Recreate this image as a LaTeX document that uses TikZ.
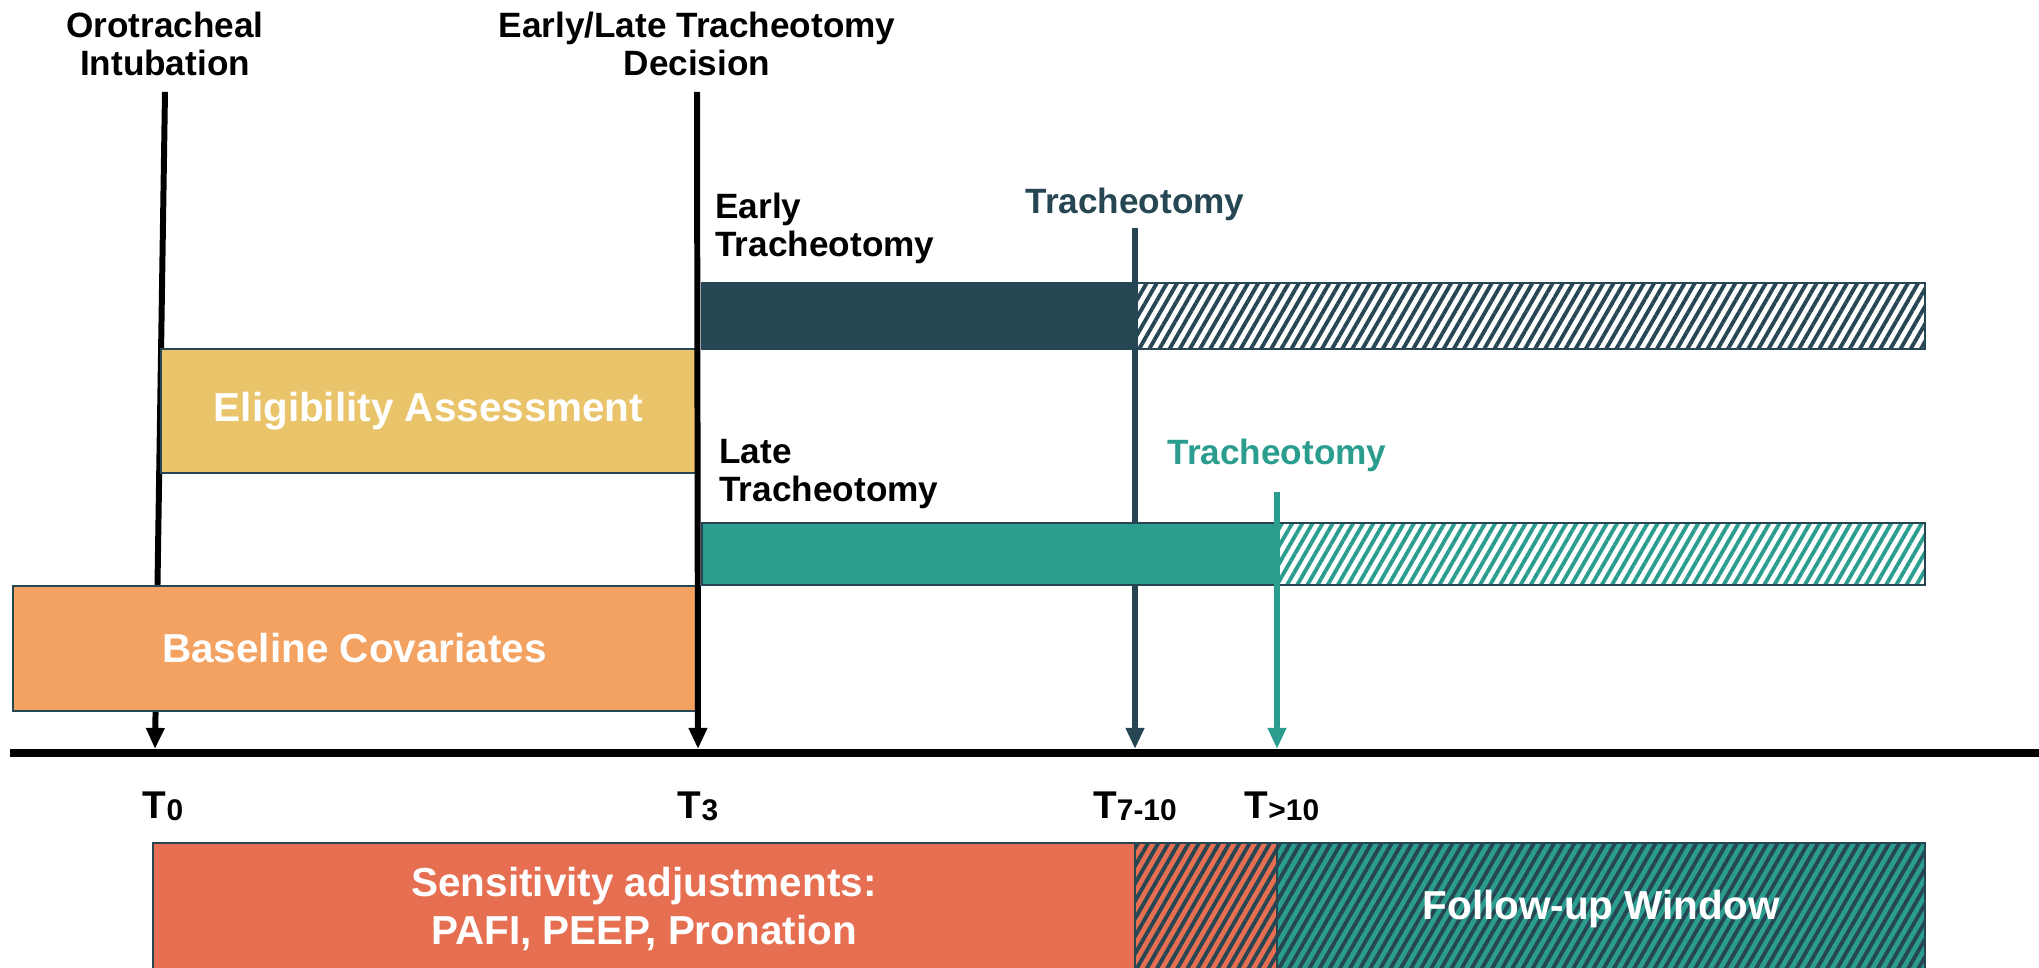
\documentclass[tikz,border=0pt]{standalone}
\usepackage{fontspec}
\setmainfont{Liberation Sans}
\usepackage{xcolor}
\usepackage{tikz}
\usetikzlibrary{arrows.meta,patterns.meta}

\definecolor{trachdark}{HTML}{264653}
\definecolor{trachteal}{HTML}{2A9D8F}
\definecolor{eligyellow}{HTML}{E9C46A}
\definecolor{baseorange}{HTML}{F4A261}
\definecolor{sensred}{HTML}{E76F51}

\newcommand{\tmark}[1]{T\raisebox{-0.6pt}{\fontsize{8.5}{9}\selectfont #1}}

\begin{document}
\begin{tikzpicture}[x=0.01cm,y=-0.01cm,
    box/.style={draw=trachdark,line width=0.6pt,inner sep=0pt,text=white,
      font=\bfseries\fontsize{11.5}{13.5}\selectfont,align=center},
    hatch/.style={pattern={Lines[angle=60,distance=2.5pt,line width=1.1pt]}},
    title/.style={font=\bfseries\fontsize{10}{10.8}\selectfont,align=center},
    tick/.style={-{Triangle[length=6pt,width=5pt]},line width=1.7pt}]
    \useasboundingbox (0,0) rectangle (2039,968);

    % Headings
    \node[title] (intub) at (165,44) {Orotracheal\\Intubation};
    \node[title] (decis) at (697,44) {Early/Late Tracheotomy\\Decision};

    % Time axis
    \coordinate (axl) at (10,753);
    \coordinate (axr) at (2039,753);
    \coordinate (t0) at (155,749);
    \coordinate (t3) at (698,749);
    \coordinate (t710) at (1135,749);
    \coordinate (tgt10) at (1277,749);
    \coordinate (earlytop) at (1135,228);
    \coordinate (latetop) at (1277,492);

    \draw[tick] ([yshift=-1pt]intub.south) -- (t0);

    % Boxes before the decision
    \node[box,fill=eligyellow,minimum width=5.35cm,minimum height=1.24cm] (elig) at (428.5,411) {Eligibility Assessment};
    \node[box,fill=baseorange,minimum width=6.83cm,minimum height=1.25cm] (base) at (354.5,648.5) {Baseline Covariates};

    \draw[trachdark,tick,line width=1.5pt] (earlytop) -- (t710);

    % Arms
    \node[title,anchor=west,align=left] (earlylbl) at (703,228) {Early\\Tracheotomy};
    \node[title,anchor=west,align=left] (latelbl) at (707,474) {Late\\Tracheotomy};
    \node[box,fill=trachdark,minimum width=4.33cm,minimum height=0.66cm] (earlybar) at (918.5,316) {};
    \node[box,hatch,pattern color=trachdark,minimum width=7.9cm,minimum height=0.66cm] (earlyfu) at (1530,316) {};
    \node[box,fill=trachteal,minimum width=5.75cm,minimum height=0.62cm] (latebar) at (989.5,554) {};
    \node[box,hatch,pattern color=trachteal,minimum width=6.48cm,minimum height=0.62cm] (latefu) at (1601,554) {};

    \node[title,text=trachdark] (earlytrach) at (1135,204) {Tracheotomy};
    \node[title,text=trachteal] (latetrach) at (1277,455) {Tracheotomy};
    \draw[trachteal,tick,line width=1.5pt] (latetop) -- (tgt10);

    \draw[line width=2.3pt] (axl) -- (axr);
    \draw[tick] ([yshift=-1pt]decis.south) -- (t3);

    % Time points
    \node[title,font=\bfseries\fontsize{11}{12}\selectfont] (l0) at (163,806) {\tmark{0}};
    \node[title,font=\bfseries\fontsize{11}{12}\selectfont] (l3) at (698,806) {\tmark{3}};
    \node[title,font=\bfseries\fontsize{11}{12}\selectfont] (l710) at (1135,806) {\tmark{7-10}};
    \node[title,font=\bfseries\fontsize{11}{12}\selectfont] (lgt10) at (1282,806) {\tmark{>10}};

    % Bottom windows
    \node[box,fill=sensred,minimum width=9.82cm,minimum height=1.32cm] (sens) at (644,909) {Sensitivity adjustments:\\PAFI, PEEP, Pronation};
    \node[box,preaction={fill=sensred},hatch,pattern color=trachdark,minimum width=1.42cm,minimum height=1.32cm] (gap) at (1206,909) {};
    \node[box,preaction={fill=trachteal},hatch,pattern color=trachdark,minimum width=6.48cm,minimum height=1.32cm] (follow) at (1601,909) {Follow-up Window};
\end{tikzpicture}
\end{document}
